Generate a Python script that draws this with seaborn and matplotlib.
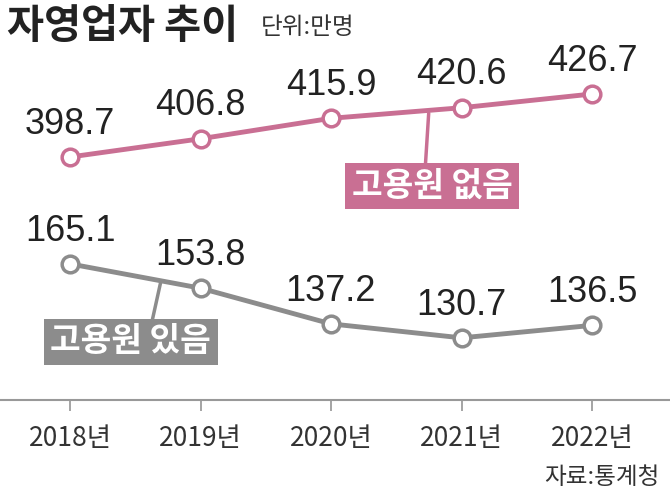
import matplotlib
matplotlib.use("Agg")
import matplotlib.pyplot as plt
import seaborn as sns
import pandas as pd

years = ["2018년", "2019년", "2020년", "2021년", "2022년"]
no_emp = [398.7, 406.8, 415.9, 420.6, 426.7]
with_emp = [165.1, 153.8, 137.2, 130.7, 136.5]

sns.set_theme(style="white")
plt.rcParams['font.family'] = ['Noto Sans CJK KR', 'DejaVu Sans']
PINK = "#c96f93"
GRAY = "#8c8c8c"

fig = plt.figure(figsize=(6.7, 4.97), dpi=100)
W, H = 670, 497
rect = [0, 97 / H, 1, 360 / H]
ax = fig.add_axes(rect)
ax2 = fig.add_axes(rect, sharex=ax)
ax2.patch.set_alpha(0)

df = pd.DataFrame({"x": range(5), "no": no_emp, "with": with_emp})
kw = dict(marker="o", markersize=12, markerfacecolor="white", markeredgewidth=2.5, linewidth=3.5)
sns.lineplot(data=df, x="x", y="with", ax=ax, color=GRAY, markeredgecolor=GRAY, **kw)
sns.lineplot(data=df, x="x", y="no", ax=ax2, color=PINK, markeredgecolor=PINK, **kw)

ax.set_xlim(-70 / 130.5, 4 + 78 / 130.5)
ax.set_ylim(101.8, 269.2)
ax2.set_ylim(290.7, 450.7)

lbl = dict(ha="center", va="bottom", fontsize=26, color="#222222",
           family=['Liberation Sans Narrow', 'Liberation Sans', 'DejaVu Sans'])
for i, v in enumerate(with_emp):
    ax.annotate(f"{v}", (i, v), xytext=(0, 11), textcoords="offset points", **lbl)
for i, v in enumerate(no_emp):
    ax2.annotate(f"{v}", (i, v), xytext=(0, 11), textcoords="offset points", **lbl)

for a in (ax, ax2):
    for s in ("top", "right", "left"):
        a.spines[s].set_visible(False)
    a.set_yticks([])
    a.set_ylabel("")
    a.set_xlabel("")
ax2.spines["bottom"].set_visible(False)
ax2.tick_params(axis="x", bottom=False, labelbottom=False)
ax.spines["bottom"].set_color("#999999")
ax.spines["bottom"].set_linewidth(1.5)
ax.set_xticks(range(5))
ax.set_xticklabels(years, fontsize=19, color="#333333")
ax.tick_params(axis="x", bottom=True, length=8, color="#999999", direction="out", pad=10)

# leader lines
ax2.annotate("", xy=(2.75, 419.4), xytext=(2.72, 392),
             arrowprops=dict(arrowstyle="-", color=PINK, lw=2.5))
ax.annotate("", xy=(0.7, 158), xytext=(0.62, 136),
            arrowprops=dict(arrowstyle="-", color=GRAY, lw=2.5))

fig.text(0.525, 1 - 186 / H, "고용원 없음", fontsize=24, color="white", weight="bold", ha="left", va="center",
         bbox=dict(boxstyle="square,pad=0.2", fc=PINK, ec="none"))
fig.text(0.075, 1 - 342 / H, "고용원 있음", fontsize=24, color="white", weight="bold", ha="left", va="center",
         bbox=dict(boxstyle="square,pad=0.2", fc=GRAY, ec="none"))

fig.text(0.01, 1 - 27 / H, "자영업자 추이", fontsize=29, weight="bold", color="#222222", va="center")
fig.text(0.39, 1 - 27 / H, "단위:만명", fontsize=17, color="#333333", va="center")
fig.text(0.985, 1 - 478 / H, "자료:통계청", fontsize=17, color="#333333", va="center", ha="right")

fig.savefig("out.png", dpi=100)
